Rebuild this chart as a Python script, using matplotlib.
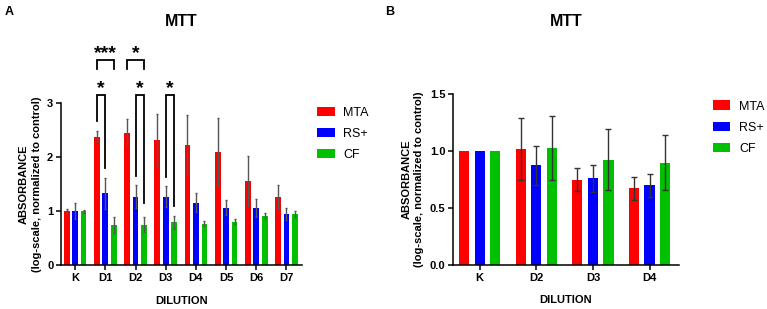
import numpy as np
import matplotlib
matplotlib.use('Agg')
import matplotlib.pyplot as plt
from matplotlib.patches import Patch

plt.rcParams['font.family'] = ['Liberation Sans', 'DejaVu Sans']

# ---- data ----
groups = ['MTA', 'RS+', 'CF']
colors = ['#ff0000', '#0000ff', '#00c000']

cats_a = ['K', 'D1', 'D2', 'D3', 'D4', 'D5', 'D6', 'D7']
mta_a = [1.00, 2.38, 2.44, 2.31, 2.22, 2.10, 1.56, 1.27]
mta_a_err = [0.04, 0.10, 0.26, 0.48, 0.55, 0.63, 0.46, 0.22]
rs_a = [1.00, 1.33, 1.27, 1.27, 1.16, 1.07, 1.06, 0.95]
rs_a_err = [0.15, 0.29, 0.21, 0.19, 0.18, 0.13, 0.17, 0.11]
cf_a = [1.00, 0.75, 0.75, 0.80, 0.77, 0.81, 0.91, 0.95]
cf_a_err = [0.03, 0.15, 0.14, 0.12, 0.05, 0.05, 0.05, 0.05]

# K is the control (no error bar shown)
cats_b = ['K', 'D2', 'D3', 'D4']
mta_b = [1.00, 1.02, 0.75, 0.675]
mta_b_err = [np.nan, 0.27, 0.10, 0.10]
rs_b = [1.00, 0.875, 0.763, 0.70]
rs_b_err = [np.nan, 0.17, 0.12, 0.10]
cf_b = [1.00, 1.026, 0.927, 0.90]
cf_b_err = [np.nan, 0.28, 0.27, 0.24]

# significance brackets: (category, bar from, bar to, left leg end, right leg end, top, label)
brackets_a = [
    (1, 0, 1, 2.67, 1.80, 3.14, '*'),
    (2, 1, 2, 1.65, 1.15, 3.14, '*'),
    (3, 1, 2, 1.64, 1.10, 3.14, '*'),
    (1, 0, 2, 3.62, 3.62, 3.79, '***'),
    (2, 0, 2, 3.62, 3.62, 3.79, '*'),
]

ylabel = 'ABSORBANCE\n(log-scale, normalized to control)'


def draw_panel(ax, cats, vals, errs, off, width, capsize, ecolor, ylim, yticks, yfmt):
    x = np.arange(len(cats))
    for i, (v, e) in enumerate(zip(vals, errs)):
        ax.bar(x + (i - 1) * off, v, width, color=colors[i], yerr=e,
               error_kw=dict(ecolor=ecolor, elinewidth=1.0, capsize=capsize, capthick=1.0))
    ax.set_xticks(x)
    ax.set_xticklabels(cats, fontsize=8, fontweight='bold')
    ax.set_xlim(-0.47, len(cats) - 1 + 0.52)
    ax.set_ylim(*ylim)
    ax.set_yticks(yticks)
    ax.set_yticklabels([yfmt.format(t) for t in yticks], fontsize=8, fontweight='bold')
    for s in ['top', 'right']:
        ax.spines[s].set_visible(False)
    for s in ['left', 'bottom']:
        ax.spines[s].set_linewidth(1.1)
    ax.tick_params(width=1.1, length=3.5, pad=2)
    ax.set_xlabel('DILUTION', fontsize=8, fontweight='bold', labelpad=9)
    ax.set_ylabel(ylabel, fontsize=8, fontweight='bold', linespacing=1.3, labelpad=4)


fig = plt.figure(figsize=(7.67, 3.09), dpi=100)
axA = fig.add_axes([0.0795, 0.1408, 0.3145, 0.526])
axB = fig.add_axes([0.5906, 0.1424, 0.2947, 0.5524])

off_a = 0.28
draw_panel(axA, cats_a, [mta_a, rs_a, cf_a], [mta_a_err, rs_a_err, cf_a_err],
           off_a, 0.19, 1.0, '#555555', (0, 3), [0, 1, 2, 3], '{:d}')
draw_panel(axB, cats_b, [mta_b, rs_b, cf_b], [mta_b_err, rs_b_err, cf_b_err],
           0.274, 0.18, 2.0, '#333333', (0, 1.5), [0, 0.5, 1.0, 1.5], '{:.1f}')

for c, i, j, yl, yr, top, lab in brackets_a:
    x1 = c + (i - 1) * off_a
    x2 = c + (j - 1) * off_a
    axA.plot([x1, x1, x2, x2], [yl, top, top, yr], color='black', lw=1.3,
             clip_on=False, solid_joinstyle='miter')
    axA.text((x1 + x2) / 2, top - 0.04, lab, ha='center', va='bottom', fontsize=14,
             fontweight='bold', clip_on=False)

# titles and panel letters
fig.text(0.2366, 0.932, 'MTT', ha='center', va='center', fontsize=11.5, fontweight='bold')
fig.text(0.738, 0.930, 'MTT', ha='center', va='center', fontsize=11.5, fontweight='bold')
fig.text(0.012, 0.961, 'A', ha='center', va='center', fontsize=9, fontweight='bold')
fig.text(0.508, 0.961, 'B', ha='center', va='center', fontsize=9, fontweight='bold')

handles = [Patch(facecolor=c, edgecolor='none') for c in colors]
for anchor in [(0.413, 0.655), (0.929, 0.675)]:
    fig.legend(handles, groups, loc='upper left', bbox_to_anchor=anchor, frameon=False,
               fontsize=9, handlelength=1.42, handleheight=0.8, handletextpad=0.7,
               labelspacing=0.72, borderpad=0, borderaxespad=0)

fig.savefig('out.png', dpi=100)
